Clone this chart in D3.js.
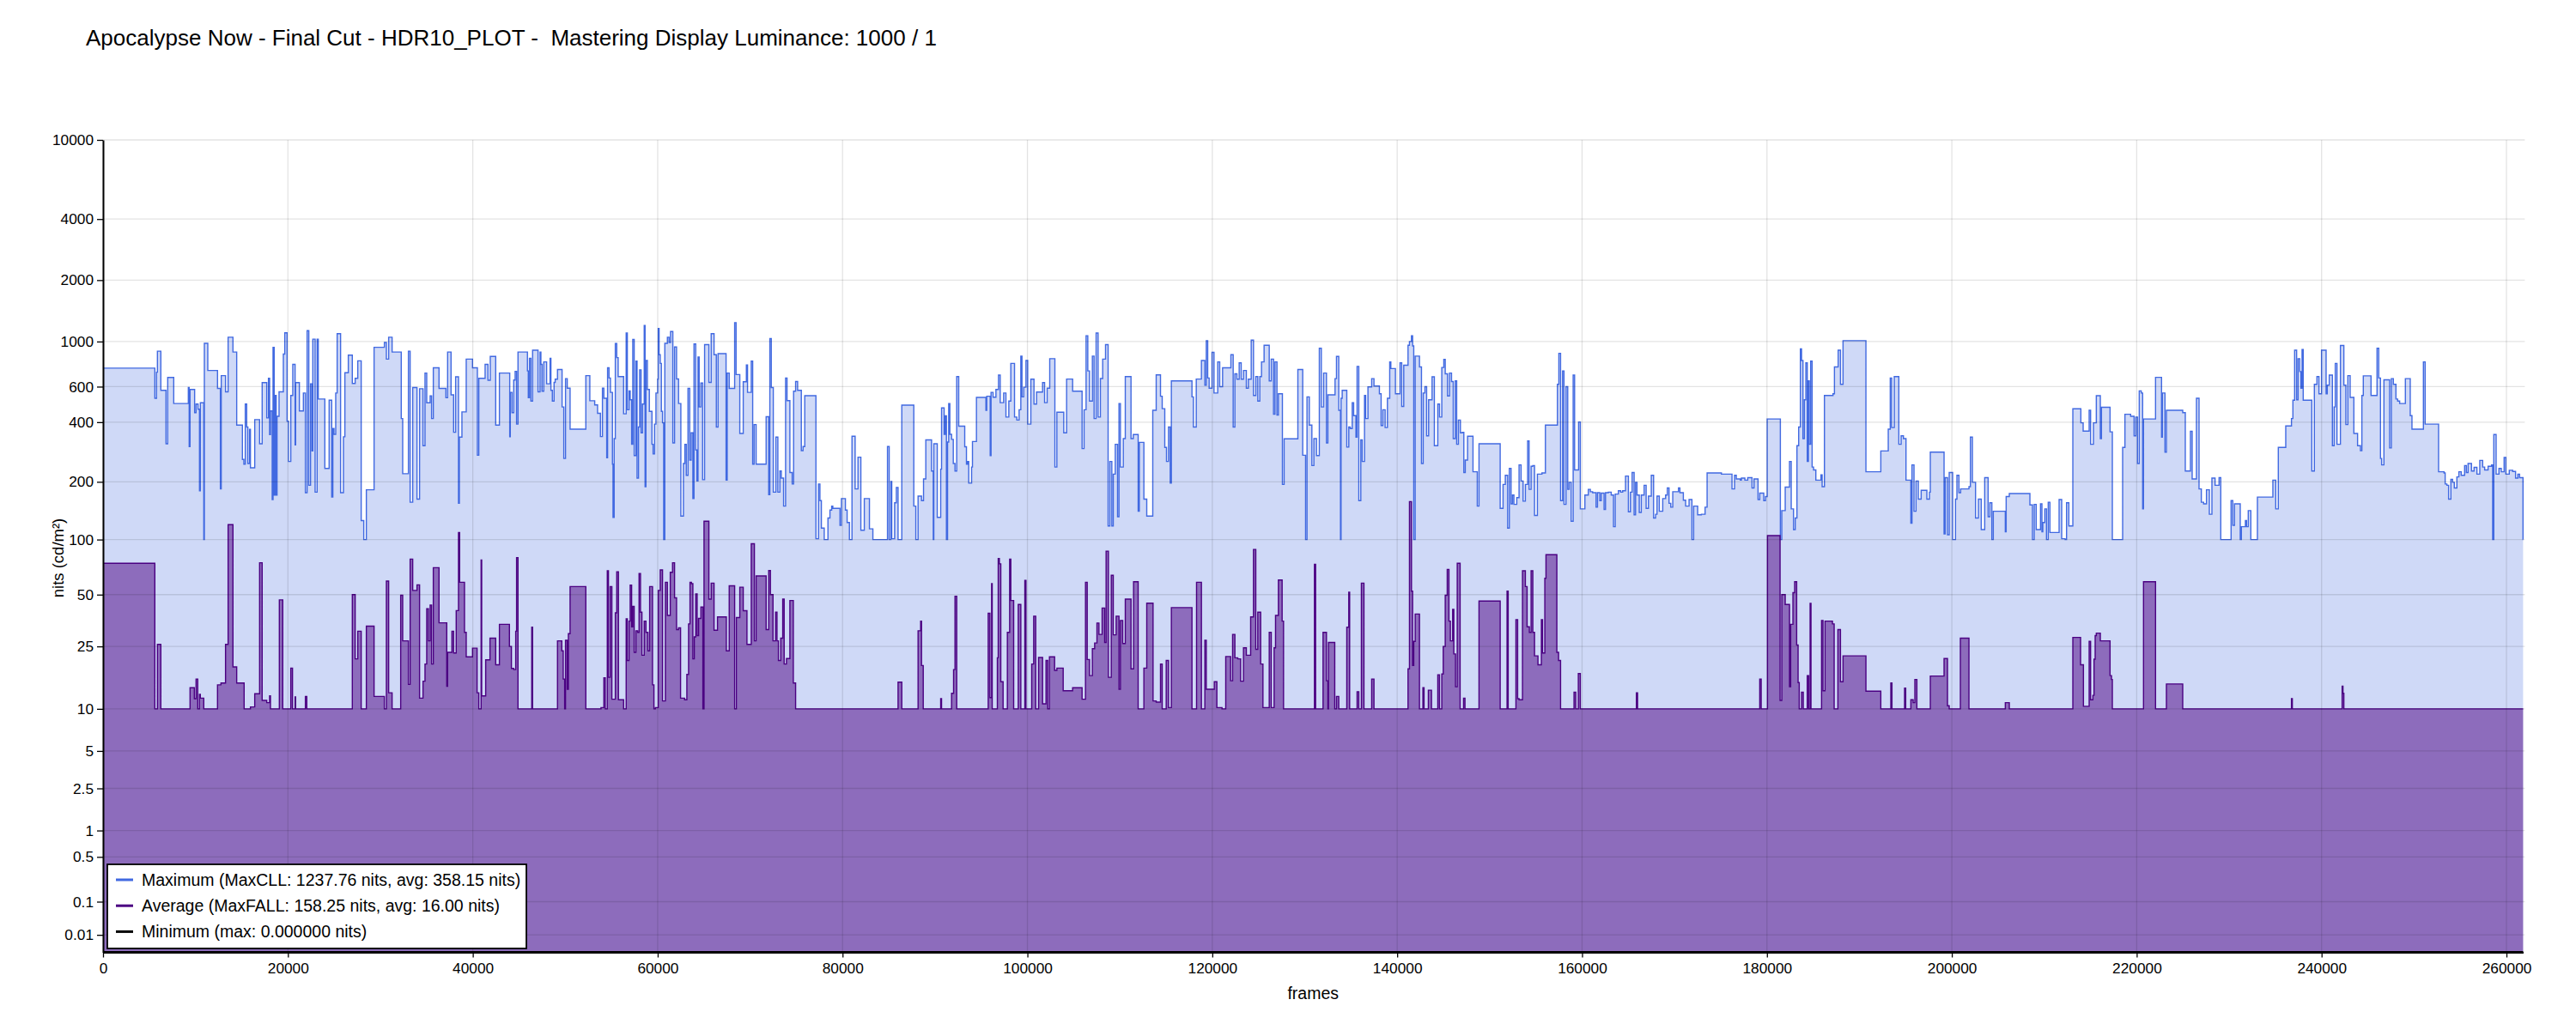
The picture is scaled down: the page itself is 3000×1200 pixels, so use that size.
<!DOCTYPE html>
<html lang="en">
<head>
<meta charset="UTF-8">
<title>HDR10 plot</title>
<script src="https://d3js.org/d3.v7.min.js"></script>
<style>
  body { margin: 0; background: #fff; }
  svg { font-family: "Liberation Sans", Arial, sans-serif; }
  .title { white-space: pre; }
</style>
</head>
<body>
<div id="chart"></div>
<script>
const width = 3000, height = 1200;
const totalFrames = 261800;

const titleText = "Apocalypse Now - Final Cut - HDR10_PLOT -  Mastering Display Luminance: 1000 / 1";
const xTicks = [0, 20000, 40000, 60000, 80000, 100000, 120000, 140000, 160000, 180000, 200000, 220000, 240000, 260000];
const yTickValues = [0.01, 0.1, 0.5, 1, 2.5, 5, 10, 25, 50, 100, 200, 400, 600, 1000, 2000, 4000, 10000];
const yTickLabels = ["0.01", "0.1", "0.5", "1", "2.5", "5", "10", "25", "50", "100", "200", "400", "600", "1000", "2000", "4000", "10000"];
const legendLabels = [
  "Maximum (MaxCLL: 1237.76 nits, avg: 358.15 nits)",
  "Average (MaxFALL: 158.25 nits, avg: 16.00 nits)",
  "Minimum (max: 0.000000 nits)"
];

// [frame, nits] step points
const maxSteps = [
  [0,740],[5604,526],[5790,707],[5883,897],[6254,575],[6812,312],[6997,666],[7648,495],[9226,594],[9319,302],[9412,581],[9908,446],[10062,492],[10279,464],[10434,180],[10527,499],[10898,100],[10960,980],[11332,721],[12384,588],[12694,184],[12787,680],[13251,566],[13530,1050],[14056,888],[14459,387],[15078,260],[15233,246],[15387,492],[15542,378],[15666,248],[15852,368],[15945,236],[16409,412],[16936,312],[17214,628],[17710,420],[17895,660],[18019,347],[18112,455],[18298,162],[18391,937],[18514,171],[18607,543],[18731,171],[18824,428],[19041,566],[19505,868],[19660,1104],[19908,404],[20062,254],[20310,543],[20527,773],[20775,308],[20836,628],[21239,455],[21672,558],[21889,176],[22075,1130],[22261,192],[22446,620],[22601,287],[22694,1027],[22942,177],[23158,1027],[23282,521],[23994,234],[24459,514],[24737,167],[24861,372],[24985,348],[25171,558],[25326,1093],[25697,176],[26007,338],[26162,703],[26533,857],[26967,622],[27276,660],[27555,804],[27927,126],[28205,100],[28484,182],[29320,937],[30434,990],[30651,820],[30898,1050],[31270,888],[32261,417],[32416,220],[33035,897],[33221,157],[33499,594],[33963,163],[34242,586],[34614,305],[34830,700],[35016,499],[35388,540],[35542,417],[35728,743],[36347,588],[37090,529],[37276,888],[37648,547],[37926,356],[38143,671],[38453,155],[38546,337],[38824,450],[39289,820],[39970,743],[40496,273],[40651,660],[41332,773],[41642,645],[41889,845],[42478,387],[42880,700],[43995,338],
  [44055,562],[44240,446],[44426,647],[44581,714],[44736,391],[44890,888],[45912,717],[46005,529],[46129,828],[46284,509],[46469,907],[47058,566],[47274,888],[47367,773],[47491,570],[47677,794],[47986,620],[48358,828],[48451,575],[48606,509],[48791,630],[48915,653],[49163,729],[49658,476],[49844,263],[50030,657],[50216,590],[50525,369],[52228,680],[52661,511],[53188,487],[53497,443],[53807,339],[54024,590],[54178,526],[54488,265],[54581,743],[54736,662],[54890,562],[55107,246],[55169,131],[55293,331],[55417,977],[55572,834],[55726,673],[56315,440],[56593,1100],[56717,461],[56903,572],[57027,517],[57182,310],[57305,1024],[57460,272],[57646,801],[57770,209],[57925,378],[58048,726],[58203,354],[58358,492],[58544,1198],[58637,189],[58730,807],[58884,581],[59101,453],[59380,310],[59504,277],[59658,391],[59813,558],[59999,653],[60061,1160],[60154,862],[60278,781],[60401,453],[60525,397],[60649,100],[60773,980],[61052,1050],[61237,990],[61392,1120],[61640,315],[61826,940],[62042,655],[62259,495],[62507,133],[62785,248],[62940,310],[63095,216],[63281,588],[63466,258],[63621,354],[63807,164],[63931,973],[64117,290],[64240,202],[64364,840],[64488,476],[64674,625],[64860,205],[65076,966],[65541,630],[65788,1093],[66098,862],[66346,378],[66531,872],[67398,204],[67522,700],[67739,588],[68327,1237.76],[68482,688],[68884,351],[69256,634],[69596,768],[69720,562],[70123,801],[70278,246],[70432,389],[70649,246],[71733,426],[72011,172],[72135,1033],[72290,594],[72507,177],[72785,337],[73002,177],[73219,227],[73374,209],[73621,150],[73838,662],[73993,512],[74302,223],[74550,195],[74705,570],[74922,636],[75138,575],[75541,288],[75727,302],[75912,541],[77120,101],[77398,195],[77553,160],[77708,115],[78018,100],[78420,130],[78637,143],[78823,150],[78946,146],[79720,119],[79875,164],[80309,143],[80494,123],[80742,100],[81021,340],[81361,184],[81671,267],[81980,112],[82352,164],[82909,114],[83281,100],[84860,302],[85046,100],[85231,201],[85324,101],[85634,156],[85820,187],[86005,100],[86408,486],[87708,150],[87925,100],
  [88170,169],[88542,160],[88759,207],[89006,326],[89626,227],[89811,100],[89873,312],[90245,131],[90616,232],[90709,471],[90988,348],[91112,430],[91236,100],[91359,318],[91483,495],[91607,348],[91793,328],[91979,248],[92164,227],[92350,673],[92567,382],[93217,301],[93403,246],[93527,254],[93650,197],[93960,238],[94053,320],[94486,531],[95508,458],[95601,538],[95972,272],[96065,562],[96282,532],[96592,581],[96870,684],[97056,500],[97428,558],[97675,424],[97985,509],[98202,781],[98604,424],[98852,410],[99099,461],[99285,848],[99409,534],[99595,596],[99842,807],[100028,391],[100369,653],[100709,492],[100988,564],[101638,628],[101855,500],[102133,590],[102412,824],[102969,238],[103186,448],[103929,354],[104239,654],[104889,570],[105911,295],[106127,461],[106344,1068],[106530,717],[106716,509],[107025,848],[107211,417],[107428,1100],[107644,424],[107892,658],[108140,820],[108449,966],[108728,118],[108914,254],[109130,118],[109285,219],[109502,310],[109750,132],[109904,495],[110059,238],[110369,331],[110586,673],[111205,331],[111452,347],[111979,141],[112103,317],[112598,163],[112908,133],[113558,458],[113929,686],[114394,538],[114579,467],[114858,299],[115044,254],[115260,378],[115446,197],[115570,641],[117799,534],[117954,378],[118264,654],[118821,807],[119192,610],[119347,1010],[119502,662],[119657,590],[119966,885],[120183,558],[120586,794],[120802,600],[121112,743],[122009,862],[122257,378],[122443,694],[122660,653],[122907,786],[123124,653],[123372,721],[123681,590],[123898,653],[124208,1016],[124455,543],[124703,673],[124920,509],[125137,673],[125322,794],[125601,959],[126158,641],[126375,820],[126623,438],[126778,794],[126994,434],[127149,553],[127583,194],[127768,330],[129254,729],[129781,273],[130090,100],[130245,534],[130493,387],[130771,242],[130988,331],[131267,272],[131576,927],[131793,476],[132041,700],
  [132348,315],[132503,547],[133277,657],[133432,845],[133680,458],[133865,100],[133927,526],[134051,575],[134547,300],[134763,378],[134918,372],[135135,500],[135290,431],[135537,337],[135661,755],[135847,160],[136064,326],[136218,254],[136466,543],[136590,417],[136838,598],[137240,657],[137488,604],[138076,553],[138262,385],[138448,461],[138695,376],[138943,526],[139191,794],[139314,737],[139810,553],[140305,786],[140491,479],[140708,765],[141172,959],[141327,1000],[141544,1068],[141667,952],[141791,100],[141946,848],[142410,750],[142627,248],[142813,558],[142999,600],[143184,342],[143401,517],[143773,671],[144020,305],[144392,492],[144578,424],[144825,746],[145042,817],[145197,694],[145444,540],[145661,700],[145878,636],[146064,331],[146280,641],[146435,310],[146621,410],[146838,354],[147054,356],[147209,223],[147364,258],[147612,340],[148200,225],[148664,150],[148850,312],[151141,146],[151451,194],[151698,216],[151946,115],[152132,234],[152318,154],[152472,171],[152627,153],[152937,166],[153184,244],[153401,202],[153618,159],[153866,194],[154113,322],[154268,183],[154485,240],[154671,242],[154856,134],[155166,219],[155661,222],[156033,387],[157333,616],[157488,875],[157674,160],[157890,717],[158045,153],[158262,600],[158448,183],[158602,199],[158819,125],[159036,684],[159191,230],[159624,401],[159810,145],[160305,171],[160677,183],[160894,178],[161141,176],[161513,148],[161668,176],[161915,160],[162070,175],[162380,144],[162534,176],[162844,177],[163154,171],[163401,117],[163587,173],[163928,180],[164175,177],[164392,180],[164702,214],[165011,140],[165228,177],[165414,223],[165630,135],[165785,199],[165940,171],[166188,139],[166404,171],[166714,192],[166931,146],[167178,169],[167488,216],[167736,130],[167952,136],[168107,169],[168355,141],[168726,164],[169036,171],[169222,186],[169407,155],[169593,148],[169810,178],[170429,186],[170584,176],[170955,161],[171203,150],[171574,162],[171884,100],[172070,150],[172504,135],[172906,136],[173309,148],[173526,222],[175074,219],[176219,184],
  [176496,216],[176682,207],[177116,204],[177239,209],[177611,204],[177921,210],[178385,186],[178602,207],[179035,162],[179221,175],[179654,160],[179840,168],[180026,415],[181450,100],[181605,142],[181976,188],[182441,254],[182626,145],[182874,113],[183060,130],[183246,305],[183431,378],[183617,921],[183741,807],[183896,331],[184050,517],[184205,786],[184360,254],[184484,641],[184577,310],[184732,801],[184887,238],[185041,230],[185289,204],[185846,217],[185970,189],[186218,543],[187146,553],[187301,750],[187704,907],[187952,616],[188230,1010],[190707,225],[192317,287],[193122,369],[193339,662],[193493,376],[193772,673],[194267,310],[194515,342],[194763,331],[195041,204],[195567,122],[195691,244],[195908,141],[196125,202],[196373,163],[196682,181],[197301,163],[197580,177],[197673,283],[199159,107],[199283,210],[199531,106],[199716,223],[200088,100],[200397,163],[200552,216],[200769,176],[200955,184],[201853,189],[202007,337],[202224,199],[202565,130],[202874,163],[203184,113],[203556,210],[203927,132],[204113,156],[204329,100],[204484,141],[205785,110],[205877,168],[206218,174],[208447,152],[208725,100],[208911,153],[209128,113],[209593,154],[209747,110],[209840,123],[210057,145],[210243,100],[210428,157],[210614,109],[211605,162],[211884,101],[212255,100],[212410,156],[212658,118],[213091,466],[213958,397],[214206,361],[214856,458],[215011,310],[215320,397],[215630,541],[216064,331],[216187,474],[217116,358],[217364,100],[218478,299],[218726,438],[219345,428],[219717,342],[219902,424],[220088,248],[220274,572],
  [220489,558],[220643,145],[220736,415],[222037,667],[222687,337],[222780,558],[223058,283],[223213,458],[224978,446],[225256,227],[225814,360],[225999,207],[226464,526],[226743,184],[226990,157],[227238,154],[227547,182],[227857,136],[228136,209],[228476,192],[228910,210],[229095,100],[230210,160],[230396,119],[230581,154],[231200,100],[231324,117],[231758,126],[231882,117],[232067,142],[232346,100],[233058,167],[234730,204],[235040,145],[235318,299],[236123,383],[236742,417],[236897,514],[237083,907],[237300,517],[237455,824],[237640,712],[237764,590],[237888,914],[238012,514],[238941,227],[239219,616],[239498,673],[239715,553],[239993,907],[240489,553],[240613,610],[240829,684],[241170,305],[241356,476],[241479,781],[241665,310],[242037,956],[242408,610],[242625,389],[242842,680],[243090,531],[243492,351],[243894,305],[244204,288],[244359,543],[244513,678],[245349,543],[245999,927],[246185,662],[246371,263],[246495,244],[246743,648],[247362,297],[247547,657],[247764,616],[248043,521],[248228,509],[248445,495],[249064,657],[249591,431],[249777,369],[251015,794],[251201,391],[252656,225],[253244,222],[253368,195],[253554,192],[253740,163],[253987,206],[254173,199],[254359,186],[254637,212],[254854,225],[255102,216],[255473,242],[255659,223],[255845,248],[256216,227],[256495,237],[256804,219],[257114,257],[257424,238],[257640,230],[258012,240],[258383,244],[258507,100],[258631,347],[258879,219],[259188,234],[259436,225],[259746,266],[259931,219],[260303,229],[260674,226],[260984,209],[261231,219],[261417,210],[261789,100]
];

const avgSteps = [
  [0,74.5],[5604,10],[5883,25.7],[6254,10],[9412,13.8],[9877,11.7],[10062,15.7],[10248,10],[10434,12.5],[10527,11.8],[10898,10],[12384,14.4],[12756,14.8],[13251,25.7],[13530,120],[14056,18.7],[14459,14.8],[15264,10],[15945,10.3],[16409,12.6],[16936,75],[17214,11.4],[17710,11],[18019,12.2],[18112,10],[19072,46.7],[19443,10],[20310,18.4],[20496,10],[20775,12],[20836,10],[21889,12.1],[22044,10],[26967,50],[27276,21],[27555,30.8],[27927,10],[28484,33],[29320,12.1],[30434,10],[30651,59.5],[30898,12.8],[31270,10],[32199,49.6],[32416,27],[33035,14.5],[33221,78.5],[33499,52.8],[33963,56.7],[34242,11.8],[34614,15.2],[34830,19.5],[35016,41.6],[35202,27],[35388,43.6],[35542,19.5],[35728,70.5],[36347,34.5],[37183,14.1],[37276,23],[37741,30.8],[37926,22.8],[38205,40.6],[38453,109],[38577,58.6],[39103,30.3],[39289,21.6],[39970,24.4],[40465,12.8],[40651,10],[40899,77.6],[40961,12.2],[41394,20.7],[41858,28],[42478,19.3],[42880,33.8],
  [43962,25],[44178,18.3],[44426,18],[44643,30.8],[44736,80],[44890,10],[46376,32.5],[46469,10],[49163,27],[49627,23.5],[49782,15.7],[49937,10],[50030,27.2],[50216,13.5],[50339,29.8],[50525,55.5],[52228,10],[53869,10.2],[54178,16],[54333,10],[54550,67.8],[54674,16.1],[54860,55.5],[55045,11.6],[55417,39.4],[55572,67],[55757,11.5],[56315,10],[56593,36.4],[56717,20.5],[56903,35.3],[57027,56.5],[57182,32.7],[57305,42.9],[57460,23],[57646,31],[57832,30.3],[57986,65.5],[58141,39.7],[58296,22.1],[58544,35.3],[58730,30.3],[58946,23.5],[59132,55.5],[59442,14.4],[59596,10],[59751,10.2],[60061,52.8],[60278,68.5],[60525,11.3],[60835,58.6],[61052,38.1],[61361,66.5],[61609,75],[61826,48],[62042,31.5],[62259,32.2],[62476,11.8],[62909,11.5],[63157,16.8],[63343,34],[63497,58.6],[63652,57.6],[63807,21],[63962,28.5],[64117,50.4],[64271,29],[64426,36.6],[64674,42.5],[64891,10],[65014,125],[65541,47.2],[65788,58],[66098,31.2],[66470,37.3],[67429,23.5],[67739,56],[68327,10],[68513,37],[68884,55],[69256,40.5],[69658,25.7],[70123,95],[70463,27],[70649,63.5],[71733,31.5],[72011,68],[72197,50],[72476,27],[72754,39.7],[72909,27],[73064,20.5],[73312,28],[73528,47.2],[73683,19.5],[73931,21.1],[74302,46.3],[74674,14.8],[74922,10],[86005,15],[86408,10],
  [88170,31],[88449,35.3],[88542,19.1],[88728,10],[90616,11.7],[90709,10],[91793,12.7],[92010,18],[92164,49],[92350,10],[95756,39.2],[95941,11.9],[96127,57.6],[96189,10],[96746,21.3],[96839,79],[96963,74],[97118,15.1],[97366,10],[97830,30.3],[98078,78.5],[98202,46.3],[98511,10],[99006,44],[99285,10],[99719,60],[99842,10],[100462,19.5],[100678,37.7],[100895,10],[101205,21.4],[101638,10.8],[102010,20.5],[102195,10],[102381,21.6],[102938,17.8],[103186,18.4],[103867,13.2],[104889,13.8],[105911,11.6],[106282,58.6],[106468,20.8],[106716,16.5],[107025,24.2],[107273,26.2],[107520,34.4],[107737,29.5],[108078,42],[108356,26.4],[108511,86.7],[108759,16.1],[109068,64],[109285,29.3],[109595,37.7],[109904,13.5],[110059,35.6],[110307,26],[110586,47.2],[111205,18.2],[111483,59],[111979,10],[112598,18.4],[112908,44.7],[113589,11.3],[113929,11.1],[114394,19.5],[114579,10],[115013,20.5],[115260,10.2],[115570,42.2],[117799,10],[118294,58.6],[118821,10],[119192,27.2],[119347,13.5],[120214,15.1],[120493,10.2],[121050,10],[121452,21.7],[121979,15.3],[122195,29.5],[122443,21.3],[122753,21],[123062,15.2],[123372,24.5],[123681,22.1],[124146,37.3],[124455,88.5],[124703,24],[124920,39.7],[125230,19.5],[125477,10.2],[126158,30.3],[126375,10.2],[126684,24.5],[126839,38.1],[127149,60.3],[127552,35.3],[127706,10],[131050,73.5],[131174,10],[131979,30.3],
  [132348,15.3],[132503,10],[132565,26.4],[133246,10],[133432,12.1],[133680,10],[134547,32.5],[134763,51.6],[134856,10],[135661,13],[135847,10],[136126,58],[136404,10],[137240,15.7],[137488,10],[141172,18.2],[141327,158.25],[141544,52.3],[141667,19.1],[141791,26.8],[141946,38.8],[142410,10],[142782,13.8],[142906,10],[143370,13.3],[143711,10],[144392,16.7],[144578,10],[144825,16.9],[144980,25],[145197,49.6],[145413,69],[145599,35.3],[145754,27],[146002,41.2],[146126,22.5],[146311,14],[146497,74.5],[146807,10],[147178,11.8],[147333,10],[148850,46],[151141,10],[151884,52.3],[152008,10],[152844,36],[153030,11.7],[153184,11.5],[153556,67.8],[153866,55.5],[154052,32.7],[154299,30.3],[154485,67.8],[154671,30.3],[154856,21.9],[155228,19.3],[155599,36],[155723,22.8],[155971,61.7],[156095,83],[157271,23],[157457,20.5],[157674,10],[159129,12.9],[159315,10],[159594,17],[159810,10],[165878,12.8],[166002,10],
  [179221,15.7],[179376,10],[180057,105],[181419,11.4],[181605,50],[181976,44],[182441,14],[182565,33.8],[182812,51.3],[182998,59],[183215,25.5],[183369,14.9],[183493,10],[183741,12.9],[183927,10],[184360,16.5],[184515,10],[184670,44.6],[184763,10],[185908,35.6],[186063,13.2],[186280,35.3],[187085,34],[187270,10],[187673,31.5],[187952,15.1],[188230,21.9],[190707,13.1],[192317,10],[193401,14.8],[193524,10],[194887,13.7],[195010,10],[195567,11.5],[195815,11],[196001,15.6],[196218,10],[197673,16.4],[199159,21.1],[199531,10.5],[199716,10],[200924,28],[201853,10],[205785,11],[206218,10],[213091,28.3],[213927,19.3],[214237,10.4],[214856,26.8],[215011,11.5],[215258,12.3],[215382,20.9],[215506,29],[215630,30],[216064,27],[217116,16.5],[217271,15.6],[217364,10],
  [220736,59],[222037,10],[223213,14.6],[224978,10],[236742,11.7],[236835,10],[242222,14.1],[242315,12.7],[242408,10]
];

const minSteps = [[0,0]];

// SMPTE ST 2084 (PQ) encoding, nits -> 0..1
function pq(nits) {
  const m1 = 0.1593017578125, m2 = 78.84375;
  const c1 = 0.8359375, c2 = 18.8515625, c3 = 18.6875;
  const ym = Math.pow(Math.max(nits, 0) / 10000, m1);
  return Math.pow((c1 + c2 * ym) / (1 + c3 * ym), m2);
}

const plot = { left: 120, right: 2938.4, top: 163, bottom: 1109.5 };

const x = d3.scaleLinear().domain([0, totalFrames]).range([plot.left, plot.right]);
const yPQ = d3.scaleLinear().domain([0, 1]).range([plot.bottom, plot.top]);
const y = v => yPQ(pq(v));

const svg = d3.select("#chart").append("svg")
    .attr("width", width)
    .attr("height", height);

// title (double space kept)
svg.append("text")
    .attr("class", "title")
    .attr("x", 100)
    .attr("y", 53)
    .attr("font-size", 26)
    .attr("fill", "#000")
    .text(titleText);

// pad each series to the right edge
function withEnd(steps) {
  const last = steps[steps.length - 1];
  return steps.concat([[totalFrames, last[1]]]);
}

const area = d3.area()
    .curve(d3.curveStepAfter)
    .x(d => x(d[0]))
    .y0(plot.bottom)
    .y1(d => y(d[1]));

const line = d3.line()
    .curve(d3.curveStepAfter)
    .x(d => x(d[0]))
    .y(d => y(d[1]));

const maxData = withEnd(maxSteps);
const avgData = withEnd(avgSteps);
const minData = withEnd(minSteps);

svg.append("path")
    .attr("d", area(maxData))
    .attr("fill", "rgba(65,105,225,0.25)");

svg.append("path")
    .attr("d", line(maxData))
    .attr("fill", "none")
    .attr("stroke", "#4169e1")
    .attr("stroke-width", 1.4);

svg.append("path")
    .attr("d", area(avgData))
    .attr("fill", "rgba(75,0,130,0.5)");

svg.append("path")
    .attr("d", line(avgData))
    .attr("fill", "none")
    .attr("stroke", "#4b0082")
    .attr("stroke-width", 1.4);

// grid on top of the fills
const grid = svg.append("g").attr("stroke", "rgba(0,0,0,0.11)").attr("stroke-width", 1.3);
grid.selectAll(".hg").data(yTickValues).join("line")
    .attr("x1", plot.left).attr("x2", plot.right + 2)
    .attr("y1", d => y(d)).attr("y2", d => y(d));
grid.selectAll(".vg").data(xTicks).join("line")
    .attr("x1", d => x(d)).attr("x2", d => x(d))
    .attr("y1", plot.top).attr("y2", plot.bottom);

svg.append("path")
    .attr("d", line(minData))
    .attr("fill", "none")
    .attr("stroke", "#000")
    .attr("stroke-width", 3);

// axes
const yAxis = svg.append("g")
    .attr("transform", `translate(${plot.left},0)`)
    .call(d3.axisLeft(yPQ)
        .tickValues(yTickValues.map(pq))
        .tickFormat((d, i) => yTickLabels[i])
        .tickSize(7)
        .tickSizeOuter(0)
        .tickPadding(4));
yAxis.selectAll("text").attr("font-size", 17.3).attr("fill", "#000").attr("font-family", null);
yAxis.select(".domain").attr("stroke", "#000").attr("stroke-width", 2);
yAxis.selectAll(".tick line").attr("stroke", "#000").attr("stroke-width", 1.3);

const xAxis = svg.append("g")
    .attr("transform", `translate(0,${plot.bottom})`)
    .call(d3.axisBottom(x)
        .tickValues(xTicks)
        .tickFormat(d3.format("d"))
        .tickSize(6)
        .tickSizeOuter(0)
        .tickPadding(6));
xAxis.selectAll("text").attr("font-size", 17.3).attr("fill", "#000").attr("font-family", null);
xAxis.select(".domain").attr("stroke", "#000").attr("stroke-width", 2);
xAxis.selectAll(".tick line").attr("stroke", "#000").attr("stroke-width", 1.3);

// axis titles
svg.append("text")
    .attr("x", (plot.left + plot.right) / 2)
    .attr("y", 1164)
    .attr("text-anchor", "middle")
    .attr("font-size", 19.5)
    .text("frames");

svg.append("text")
    .attr("transform", "translate(74,650) rotate(-90)")
    .attr("text-anchor", "middle")
    .attr("font-size", 18.5)
    .text("nits (cd/m²)");

// legend
const legendColors = ["#4169e1", "#4b0082", "#000000"];
const legend = svg.append("g");
legend.append("rect")
    .attr("x", 125).attr("y", 1007)
    .attr("width", 488).attr("height", 98)
    .attr("fill", "#fff")
    .attr("stroke", "#000")
    .attr("stroke-width", 1.8);
const rows = legend.selectAll(".row").data(legendLabels).join("g")
    .attr("transform", (d, i) => `translate(0,${1025 + i * 30.2})`);
rows.append("line")
    .attr("x1", 135).attr("x2", 155)
    .attr("stroke", (d, i) => legendColors[i])
    .attr("stroke-width", 3);
rows.append("text")
    .attr("x", 165)
    .attr("y", 7)
    .attr("font-size", 19.5)
    .text(d => d);
</script>
</body>
</html>
